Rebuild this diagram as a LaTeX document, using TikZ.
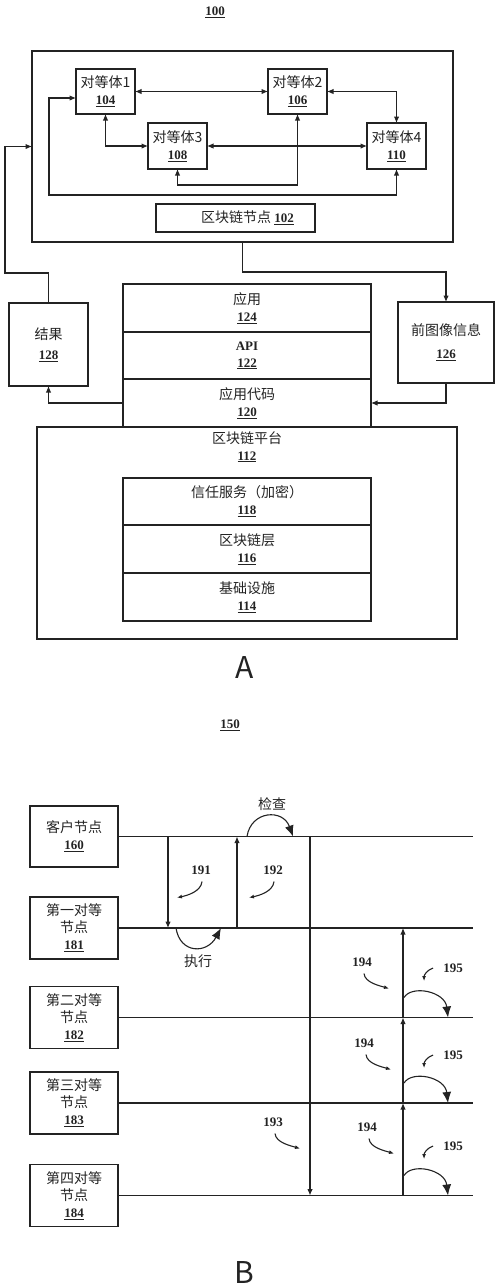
\documentclass[tikz,border=0pt]{standalone}
\usepackage{fontspec}
\setmainfont{Noto Sans CJK SC}
\newfontfamily\numfont{Liberation Serif}
\usepackage{tikz}
\usetikzlibrary{arrows.meta, positioning}
\definecolor{ink}{RGB}{35,35,35}
\newcommand{\zhsize}{\fontsize{14}{17}\selectfont}
\newcommand{\refnum}[1]{{\numfont\bfseries\fontsize{13}{16}\selectfont\underline{#1}}}
\tikzset{
  box/.style={rectangle, draw=ink, line width=1.4pt, inner sep=0pt, outer sep=0pt,
              align=center, font=\zhsize, text=ink},
  link/.style={draw=ink, line width=1.1pt},
  arrow/.style={link, -{Latex[length=6.5pt, width=5.5pt]}},
  dblarrow/.style={link, {Latex[length=6.5pt, width=5.5pt]}-{Latex[length=6.5pt, width=5.5pt]}},
  bigarrow/.style={link, -{Latex[length=11pt, width=9pt]}},
  callout/.style={link, -{Latex[length=5pt, width=4pt]}},
  tag/.style={font=\numfont\bfseries\fontsize{13}{16}\selectfont, text=ink, inner sep=1pt},
  zh/.style={font=\zhsize, text=ink, inner sep=1pt},
}

\begin{document}
\begin{tikzpicture}[x=1pt, y=-1pt]
  \useasboundingbox (0,0) rectangle (500,1288);
  % system 100
  \node[tag] (fig100) at (215,12) {\underline{100}};
  \node[box, minimum width=421pt, minimum height=191pt] (sys) at (242.5,146.5) {};
  \node[box, minimum width=59pt, minimum height=45pt] (p1) at (105.5,91.5) {对等体1\\\refnum{104}};
  \node[box, minimum width=59pt, minimum height=45pt] (p2) at (297.5,91.5) {对等体2\\\refnum{106}};
  \node[box, minimum width=59pt, minimum height=46pt] (p3) at (177.5,146) {对等体3\\\refnum{108}};
  \node[box, minimum width=59pt, minimum height=46pt] (p4) at (396.5,146) {对等体4\\\refnum{110}};
  \node[box, minimum width=159pt, minimum height=28pt] (bcnode) at (235.5,218) {\hspace*{24pt}区块链节点 \refnum{102}};
  % peer links
  \draw[dblarrow] (p1) -- (p2);
  \draw[dblarrow] (p2.east) -| (p4.north);
  \draw[dblarrow] (p1.south) |- (p3.west);
  \draw[dblarrow] (p3) -- (p4);
  \draw[dblarrow] (p3.south) -- ++(0,16) -| (p2.south);
  \coordinate (loop) at (49,195);
  \draw[dblarrow] ([yshift=-6.5pt]p1.west) -| (loop) -| (p4.south);
  % application stack
  \node[box, minimum width=79pt, minimum height=83pt] (res) at (48.5,344.5) {结果\\[3pt]\refnum{128}};
  \node[box, minimum width=96pt, minimum height=81pt] (pre) at (446,342.5) {前图像信息\\[6pt]\refnum{126}};
  \node[box, minimum width=248pt, minimum height=48pt] (app) at (247,308) {应用\\\refnum{124}};
  \node[box, minimum width=248pt, minimum height=47pt, below=0pt of app] (api) {{\numfont\bfseries\fontsize{13}{16}\selectfont API}\\\refnum{122}};
  \node[box, minimum width=248pt, minimum height=48pt, below=0pt of api] (code) {应用代码\\\refnum{120}};
  \node[box, minimum width=420pt, minimum height=212pt, below=0pt of code] (plat) {};
  \node[zh, anchor=north, align=center] (plattxt) at ([yshift=-3pt]plat.north) {区块链平台\\\refnum{112}};
  \node[box, minimum width=248pt, minimum height=47pt, below=51pt of plat.north] (trust) {信任服务（加密）\\\refnum{118}};
  \node[box, minimum width=248pt, minimum height=48pt, below=0pt of trust] (layer) {区块链层\\\refnum{116}};
  \node[box, minimum width=248pt, minimum height=48pt, below=0pt of layer] (infra) {基础设施\\\refnum{114}};
  \node[text=ink, font=\fontsize{30}{30}\selectfont] (capA) at (245,667) {A};
  % data flow
  \coordinate (fb) at (5,273);
  \draw[arrow] (res.north) |- (fb) |- (sys.west);
  \draw[arrow] (sys.south) -- ++(0,30) -| (pre.north);
  \draw[arrow] (pre.south) |- (code.east);
  \draw[arrow] (code.west) -| (res.south);

  % flow 150
  \node[tag] (fig150) at (230,725) {\underline{150}};
  \node[box, minimum width=88pt, minimum height=61pt] (cli) at (74,836.5) {客户节点\\\refnum{160}};
  \foreach \nm/\y/\ord in {181/928/一, 182/1017.5/二, 183/1103/三, 184/1195.5/四}{
    \node[box, minimum width=88pt, minimum height=62pt] (n\nm) at (74,\y) {第\ord 对等\\节点\\\refnum{\nm}};
  }
  \foreach \nm in {cli, n181, n182, n183, n184}
    \draw[link] (\nm.east) -- ++(355,0);
  \coordinate (c191) at (168,0);
  \coordinate (c192) at (237,0);
  \coordinate (c193) at (310,0);
  \coordinate (c194) at (403,0);
  \draw[arrow] (c191 |- cli.east) -- (c191 |- n181.east);
  \draw[arrow] (c192 |- n181.east) -- (c192 |- cli.east);
  \draw[arrow] (c193 |- cli.east) -- (c193 |- n184.east);
  \draw[arrow] (c194 |- n184.east) -- (c194 |- n183.east);
  \draw[arrow] (c194 |- n183.east) -- (c194 |- n182.east);
  \draw[arrow] (c194 |- n182.east) -- (c194 |- n181.east);
  % check / execute
  \node[zh] (chk) at (272,804) {检查};
  \draw[bigarrow] (c192 |- cli.east) ++(10,0) .. controls +(4,-26) and +(-10,-28) .. ++(46,0);
  \node[zh] (exe) at (198,961) {执行};
  \draw[bigarrow] (c191 |- n181.east) ++(8,0) .. controls +(4,26) and +(-14,26) .. ++(45,0);
  \foreach \nm in {n182, n183, n184}
    \draw[bigarrow] (c194 |- \nm.east) ++(1,-20) .. controls +(8,-13) and +(-3,-26) .. ++(44,20);
  % reference labels
  \foreach \t/\x/\y in {191/201/870, 192/273/870}{
    \node[tag] (l\t) at (\x,\y) {\t};
    \draw[callout] (l\t.south) ++(1,6) .. controls +(-1,10) and +(10,-2) .. ++(-25,16);
  }
  \foreach \k/\t/\x/\y in {a/193/273/1122, b/194/362/962, c/194/364/1043, d/194/367/1127}{
    \node[tag] (l\k) at (\x,\y) {\t};
    \draw[callout] (l\k.south) ++(2,6) .. controls +(1,9) and +(-10,-3) .. ++(25,15);
  }
  \foreach \k/\y in {a/968, b/1055, c/1146}{
    \node[tag] (l195\k) at (453,\y) {195};
    \draw[callout] (l195\k.west) ++(-9,0) .. controls +(-6,2) and +(0,-6) .. ++(-9,13);
  }
  \node[text=ink, font=\fontsize{30}{30}\selectfont] (capB) at (244,1272) {B};
\end{tikzpicture}
\end{document}
